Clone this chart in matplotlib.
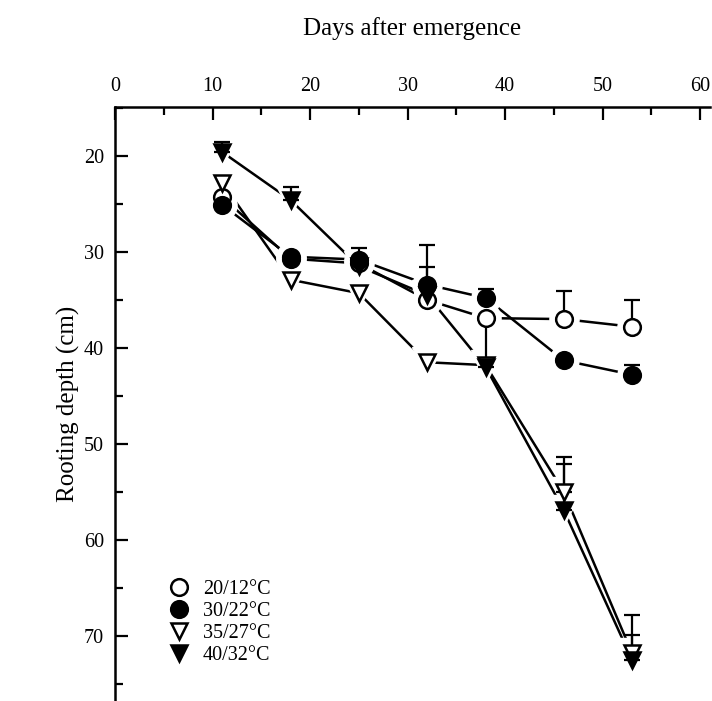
import numpy as np
import matplotlib
matplotlib.use('Agg')
import matplotlib.pyplot as plt
from matplotlib.ticker import MultipleLocator

plt.rcParams['font.family'] = ['Liberation Serif', 'DejaVu Serif']

# Data
days = [11, 18, 25, 32, 38, 46, 53]
labels = ['20/12°C', '30/22°C', '35/27°C', '40/32°C']
depth_20 = [24.3, 30.7, 31.2, 35.0, 36.9, 37.0, 37.8]
depth_30 = [25.1, 30.5, 30.8, 33.4, 34.8, 41.3, 42.8]
depth_35 = [22.8, 32.9, 34.3, 41.5, 41.8, 55.0, 71.8]
depth_40 = [19.6, 24.6, 31.5, 34.5, 42.0, 56.9, 72.5]
err_20 = [0, 0, 0, 5.7, 0, 2.9, 2.8]
err_30 = [0, 0, 0, 1.8, 0.9, 0, 1.0]
err_35 = [0, 0, 0, 0, 0, 3.6, 4.0]
err_40 = [1.1, 1.4, 1.9, 0, 5.0, 4.8, 2.6]

series = [
    (depth_20, err_20, 'o', 'white'),
    (depth_30, err_30, 'o', 'black'),
    (depth_35, err_35, 'v', 'white'),
    (depth_40, err_40, 'v', 'black'),
]

fig = plt.figure(figsize=(7.12, 7.01), dpi=100)
ax = fig.add_axes([115 / 712, 0.0, 595 / 712, 1 - 107 / 701])

# lines first, then white halos to give the gaps around markers
for y, e, m, fc in series:
    ax.plot(days, y, color='black', lw=1.8, zorder=1)
for y, e, m, fc in series:
    ax.plot(days, y, ls='none', marker=m, ms=21, mfc='white', mec='white', zorder=2)

handles = []
for (y, e, m, fc), lab in zip(series, labels):
    e = np.array(e)
    mask = e > 0
    ax.errorbar(np.array(days)[mask], np.array(y)[mask],
                yerr=[e[mask], np.zeros(mask.sum())],
                fmt='none', ecolor='black', elinewidth=1.6, capsize=6,
                capthick=1.6, zorder=3)
    h, = ax.plot(days, y, ls='none', marker=m, ms=12, mfc=fc, mec='black',
                 mew=1.8, zorder=4, label=lab)
    handles.append(h)

ax.set_xlim(0, 61)
ax.set_ylim(76.8, 14.9)
ax.xaxis.tick_top()
ax.xaxis.set_label_position('top')
ax.xaxis.set_major_locator(MultipleLocator(10))
ax.xaxis.set_minor_locator(MultipleLocator(5))
ax.yaxis.set_major_locator(MultipleLocator(10))
ax.yaxis.set_minor_locator(MultipleLocator(5))
ax.set_yticks([20, 30, 40, 50, 60, 70])
ax.tick_params(which='major', direction='in', length=9, width=1.6,
               labelsize=14.5, pad=8)
ax.tick_params(which='minor', direction='in', length=6, width=1.6)
ax.tick_params(axis='x', which='both', top=True, bottom=False)
ax.tick_params(axis='y', which='both', left=True, right=False)
for s in ['right', 'bottom']:
    ax.spines[s].set_visible(False)
for s in ['top', 'left']:
    ax.spines[s].set_linewidth(1.8)

ax.set_xlabel('Days after emergence', fontsize=18, labelpad=30)
ax.set_ylabel('Rooting depth (cm)', fontsize=18, labelpad=3)

ax.legend(handles=handles, loc='lower left', bbox_to_anchor=(0.06, 0.03),
          frameon=False, fontsize=14.5, handlelength=1.0, handletextpad=0.7,
          labelspacing=0.15, markerscale=1.0)

fig.savefig('out.png', dpi=100)
